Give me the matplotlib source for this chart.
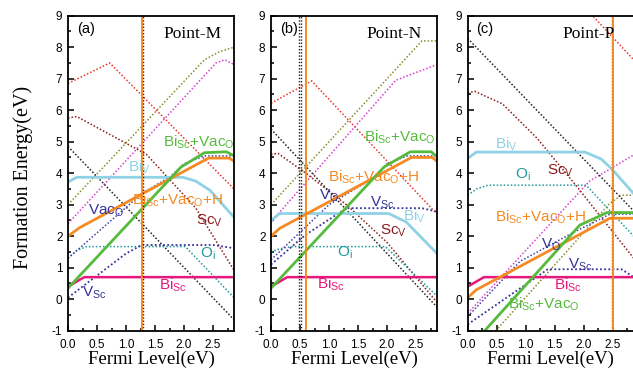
import matplotlib
matplotlib.use('Agg')
import matplotlib.pyplot as plt
from matplotlib.ticker import MultipleLocator

plt.rcParams['font.family'] = ['Liberation Sans', 'DejaVu Sans']
plt.rcParams['mathtext.fontset'] = 'custom'
plt.rcParams['mathtext.rm'] = 'Liberation Sans'
plt.rcParams['mathtext.it'] = 'Liberation Sans'
plt.rcParams['mathtext.default'] = 'regular'
plt.rcParams['axes.unicode_minus'] = False

# x = Fermi level (eV), y = formation energy (eV)
panel_tags = ['(a)', '(b)', '(c)']
point_names = ['Point-M', 'Point-N', 'Point-P']
fermi_pos = [1.27, 0.6, 2.5]              # orange vertical lines
dotted_pos = [[1.29], [0.48, 0.52], [2.48]]  # black dotted verticals

# ---- panel (a) Point-M ----
a_red = ([0, 0.72, 2.86], [6.85, 7.5, 3.5])
a_olive = ([0, 2.35, 2.6, 2.86], [3.0, 7.6, 7.85, 8.0])
a_magenta = ([0, 2.55, 2.7, 2.86], [2.4, 7.5, 7.6, 7.45])
a_sc_v = ([0, 0.15, 1.35, 2.2, 2.86], [5.75, 5.8, 4.6, 2.9, 0.92])
a_black = ([0, 2.86], [4.85, -0.65])
a_o_i = ([0, 0.15, 0.32, 2.02, 2.86], [1.3, 1.55, 1.67, 1.67, 0.05])
a_v_o = ([0, 1.27, 1.76, 2.0, 2.35, 2.86], [1.3, 3.35, 3.89, 4.3, 4.55, 4.55])
a_v_sc = ([0, 0.5, 1.0, 1.27, 2.5, 2.86], [0.05, 0.75, 1.45, 1.72, 1.72, 1.62])
a_bi_v = ([0, 0.15, 1.98, 2.2, 2.45, 2.86], [3.72, 3.87, 3.87, 3.75, 3.45, 2.6])
a_bisc_vaco = ([0, 1.95, 2.35, 2.73, 2.86], [0.35, 4.2, 4.65, 4.68, 4.55])
a_bisc_vaco_h = ([0, 0.2, 2.42, 2.78, 2.86], [2.0, 2.27, 4.48, 4.48, 4.38])
a_bi_sc = ([0, 0.28, 2.86], [0.4, 0.7, 0.7])

# ---- panel (b) Point-N ----
b_red = ([0, 0.7, 2.86], [6.22, 6.93, 2.7])
b_olive = ([0, 2.6, 2.86], [3.0, 8.2, 8.2])
b_magenta = ([0, 2.15, 2.86], [2.45, 6.95, 7.45])
b_sc_v = ([0, 0.12, 0.6, 1.3, 2.0, 2.86], [4.6, 4.63, 4.0, 3.0, 1.8, -0.1])
b_black = ([0, 2.86], [5.4, -0.25])
b_o_i = ([0, 0.15, 0.35, 1.97, 2.86], [1.5, 1.6, 1.67, 1.67, 0.1])
b_v_o = ([0, 1.0, 1.76, 2.0, 2.35, 2.86], [1.25, 3.0, 3.85, 4.3, 4.55, 4.55])
b_v_sc = ([0, 0.6, 1.3, 2.6, 2.86], [1.1, 2.05, 2.89, 2.89, 2.78])
b_bi_v = ([0, 0.15, 2.03, 2.33, 2.86], [2.5, 2.72, 2.72, 2.45, 1.45])
b_bisc_vaco = ([0, 1.95, 2.4, 2.76, 2.86], [0.35, 4.2, 4.68, 4.68, 4.52])
b_bisc_vaco_h = ([0, 0.15, 2.42, 2.78, 2.86], [2.0, 2.25, 4.5, 4.5, 4.38])
b_bi_sc = ([0, 0.28, 2.86], [0.4, 0.7, 0.7])

# ---- panel (c) Point-P ----
c_red = ([2.0, 2.86], [9.3, 7.6])
c_olive = ([0, 2.45, 2.65, 2.86], [-2.0, 3.05, 3.3, 3.3])
c_magenta = ([0, 2.1, 2.86], [-0.45, 3.75, 4.58])
c_sc_v = ([0, 0.12, 0.6, 1.2, 1.87, 2.86], [6.55, 6.6, 6.2, 5.1, 3.6, 1.3])
c_black = ([0, 2.86], [8.28, 2.8])
c_o_i = ([0, 0.15, 0.35, 2.04, 2.86], [3.3, 3.5, 3.62, 3.62, 2.0])
c_v_o = ([0, 0.9, 1.8, 2.45, 2.86], [-0.55, 1.2, 2.1, 2.7, 2.7])
c_v_sc = ([0, 1.38, 2.65, 2.86], [-0.8, 0.95, 0.95, 0.7])
c_bi_v = ([0, 0.15, 2.02, 2.3, 2.5, 2.86], [4.47, 4.67, 4.67, 4.45, 4.1, 3.35])
c_bisc_vaco = ([0, 1.93, 2.4, 2.86], [-1.6, 2.35, 2.75, 2.75])
c_bisc_vaco_h = ([0, 0.15, 2.45, 2.86], [0.05, 0.3, 2.57, 2.57])
c_bi_sc = ([0, 0.28, 2.86], [0.4, 0.7, 0.7])

panels = [
    dict(red=a_red, olive=a_olive, magenta=a_magenta, sc_v=a_sc_v, black=a_black,
         o_i=a_o_i, v_o=a_v_o, v_sc=a_v_sc, bi_v=a_bi_v, bisc_vaco=a_bisc_vaco,
         bisc_vaco_h=a_bisc_vaco_h, bi_sc=a_bi_sc),
    dict(red=b_red, olive=b_olive, magenta=b_magenta, sc_v=b_sc_v, black=b_black,
         o_i=b_o_i, v_o=b_v_o, v_sc=b_v_sc, bi_v=b_bi_v, bisc_vaco=b_bisc_vaco,
         bisc_vaco_h=b_bisc_vaco_h, bi_sc=b_bi_sc),
    dict(red=c_red, olive=c_olive, magenta=c_magenta, sc_v=c_sc_v, black=c_black,
         o_i=c_o_i, v_o=c_v_o, v_sc=c_v_sc, bi_v=c_bi_v, bisc_vaco=c_bisc_vaco,
         bisc_vaco_h=c_bisc_vaco_h, bi_sc=c_bi_sc),
]

GREEN = '#55bb3c'
ORANGE = '#f58a23'
CYAN = '#8fd2e5'
PINK = '#e8177c'
NAVY = '#34349a'
TEAL = '#22999a'
BROWN = '#8b1c1c'
DOT = (0, (1, 1.3))

styles = {
    'red': dict(color='#e8352d', ls=DOT, lw=1.1),
    'olive': dict(color='#8c8c2c', ls=DOT, lw=1.1),
    'magenta': dict(color='#d640d0', ls=DOT, lw=1.1),
    'sc_v': dict(color=BROWN, ls=DOT, lw=1.1),
    'black': dict(color='#222222', ls=DOT, lw=1.1),
    'o_i': dict(color=TEAL, ls=DOT, lw=1.1),
    'v_o': dict(color='#4040b0', ls=DOT, lw=1.1),
    'v_sc': dict(color=NAVY, ls=DOT, lw=1.3),
    'bi_v': dict(color=CYAN, ls='-', lw=2.0),
    'bisc_vaco': dict(color=GREEN, ls='-', lw=2.0),
    'bisc_vaco_h': dict(color=ORANGE, ls='-', lw=2.0),
    'bi_sc': dict(color=PINK, ls='-', lw=1.8),
}

# text labels: (text, x, y, color)
labels = [
    [('Bi$_{Sc}$+Vac$_{O}$', 1.64, 4.84, GREEN), ('Bi$_{V}$', 1.04, 4.05, CYAN),
     ('Vac$_{O}$', 0.35, 2.67, NAVY), ('Bi$_{Sc}$+Vac$_{O}$+H', 1.1, 2.99, ORANGE),
     ('Sc$_{V}$', 2.2, 2.36, BROWN), ('O$_{i}$', 2.27, 1.33, TEAL),
     ('Bi$_{Sc}$', 1.57, 0.29, PINK), ('V$_{Sc}$', 0.24, 0.08, NAVY)],
    [('Bi$_{Sc}$+Vac$_{O}$', 1.61, 5.0, GREEN), ('Bi$_{Sc}$+Vac$_{O}$+H', 0.99, 3.73, ORANGE),
     ('V$_{O}$', 0.82, 3.15, NAVY), ('V$_{Sc}$', 1.71, 2.94, NAVY),
     ('Bi$_{V}$', 2.28, 2.51, CYAN), ('Sc$_{V}$', 1.88, 2.04, BROWN),
     ('O$_{i}$', 1.13, 1.35, TEAL), ('Bi$_{Sc}$', 0.79, 0.35, PINK)],
    [('Bi$_{V}$', 0.47, 4.79, CYAN), ('O$_{i}$', 0.81, 3.84, TEAL),
     ('Sc$_{V}$', 1.37, 3.94, BROWN), ('Bi$_{Sc}$+Vac$_{O}$+H', 0.47, 2.46, ORANGE),
     ('V$_{O}$', 1.27, 1.62, NAVY), ('V$_{Sc}$', 1.73, 0.98, NAVY),
     ('Bi$_{Sc}$', 1.48, 0.29, PINK), ('Bi$_{Sc}$+Vac$_{O}$', 0.7, -0.29, GREEN)],
]

fig = plt.figure(figsize=(6.33, 3.71), dpi=100)
lefts = [68 / 633, 271 / 633, 467.7 / 633]
w = 166 / 633
bottom, h = 40.3 / 371, 315 / 371

for i, curves in enumerate(panels):
    ax = fig.add_axes([lefts[i], bottom, w, h])
    order = ['red', 'olive', 'magenta', 'sc_v', 'black', 'o_i', 'v_o', 'v_sc',
             'bi_v', 'bi_sc', 'bisc_vaco_h', 'bisc_vaco']
    for key in order:
        xs, ys = curves[key]
        ax.plot(xs, ys, **styles[key])
    for xd in dotted_pos[i]:
        ax.axvline(xd, color='#222222', ls=DOT, lw=1.0)
    ax.axvline(fermi_pos[i], color=ORANGE, lw=1.4)

    for txt, x, y, c in labels[i]:
        ax.text(x, y, txt, color=c, fontsize=11, ha='left', va='baseline')
    ax.text(0.15, 8.45, panel_tags[i], fontsize=10.5, ha='left', va='baseline')
    ax.text(1.64, 8.3, point_names[i], fontsize=12.5, family='Liberation Serif',
            ha='left', va='baseline')

    ax.set_xlim(0, 2.86)
    ax.set_ylim(-1, 9)
    ax.xaxis.set_major_locator(MultipleLocator(0.5))
    ax.xaxis.set_minor_locator(MultipleLocator(0.25))
    ax.yaxis.set_major_locator(MultipleLocator(1))
    ax.yaxis.set_minor_locator(MultipleLocator(0.5))
    ax.tick_params(which='both', direction='in', top=False, right=False,
                   labelsize=8.5, width=1.1)
    ax.tick_params(axis='x', pad=6)
    ax.tick_params(axis='y', pad=4)
    ax.tick_params(which='major', length=4)
    ax.tick_params(which='minor', length=2.5)
    for s in ax.spines.values():
        s.set_linewidth(1.3)
    ax.set_xlabel('Fermi Level(eV)', family='Liberation Serif', fontsize=13.5,
                  labelpad=0)

fig.text(0.036, 0.523, 'Formation Energy(eV)', family='Liberation Serif',
         fontsize=14.5, rotation=90, ha='center', va='center')

fig.savefig('out.png', dpi=100)
